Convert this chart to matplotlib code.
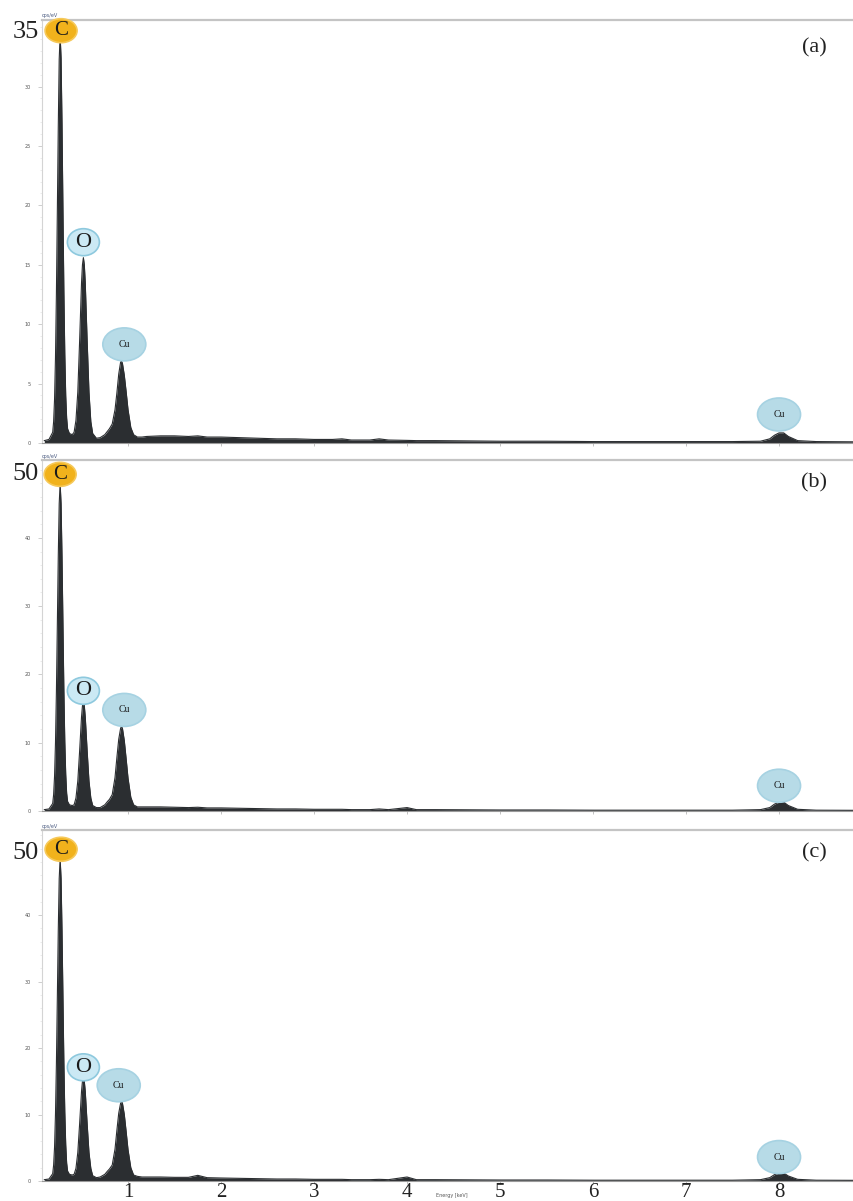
import matplotlib
matplotlib.use('Agg')
import matplotlib.pyplot as plt
import matplotlib.transforms as mtransforms
from matplotlib.patches import Ellipse
from matplotlib.ticker import MultipleLocator

# Energy axis (keV), shared by the three spectra
energy = [0.10, 0.15, 0.19, 0.20, 0.21, 0.22, 0.23, 0.24, 0.25, 0.26, 0.27, 0.28, 0.29, 0.30,
          0.31, 0.32, 0.33, 0.34, 0.35, 0.37, 0.40,
          0.42, 0.44, 0.46, 0.48, 0.50, 0.51, 0.52, 0.53, 0.54, 0.56, 0.58, 0.60, 0.62, 0.66,
          0.70, 0.75, 0.78, 0.80, 0.83, 0.86, 0.88, 0.90, 0.92, 0.93, 0.94, 0.96, 0.98, 1.00,
          1.03, 1.06, 1.10, 1.15,
          1.20, 1.35, 1.50, 1.65, 1.75, 1.85, 2.00, 2.20, 2.40, 2.60, 2.80, 3.00, 3.20, 3.30,
          3.40, 3.60, 3.70, 3.80, 4.00, 4.10, 4.30, 4.60, 5.00, 5.50, 6.00, 6.50, 7.00, 7.50,
          7.80, 7.90, 7.95, 8.00, 8.05, 8.10, 8.20, 8.40, 8.80]

# counts (cps/eV)
counts_a = [0.2, 0.3, 0.9, 1.8, 3.7, 7.2, 12.6, 19.5, 26.6, 32.3, 34.3, 32.4, 26.9, 19.7,
            12.8, 7.5, 4.0, 2.1, 1.2, 0.8, 0.7,
            0.9, 1.9, 4.3, 8.7, 13.5, 15.0, 15.6, 15.0, 13.5, 8.7, 4.3, 1.8, 0.8, 0.4,
            0.45, 0.7, 1.0, 1.2, 1.6, 2.8, 4.2, 5.8, 6.8, 6.9, 6.7, 5.7, 4.3, 2.8,
            1.3, 0.7, 0.5, 0.5,
            0.55, 0.6, 0.6, 0.55, 0.6, 0.5, 0.5, 0.45, 0.4, 0.35, 0.35, 0.3, 0.3, 0.35,
            0.25, 0.25, 0.35, 0.25, 0.22, 0.2, 0.2, 0.18, 0.15, 0.15, 0.12, 0.12, 0.12, 0.12,
            0.15, 0.35, 0.65, 0.85, 0.85, 0.55, 0.2, 0.12, 0.1]

counts_b = [0.2, 0.3, 1.1, 2.4, 5.1, 10.0, 17.5, 27.3, 37.3, 45.0, 48.0, 45.0, 37.3, 27.5,
            17.7, 10.2, 5.4, 2.6, 1.4, 0.9, 0.8,
            0.9, 1.9, 4.4, 8.9, 13.8, 15.4, 16.0, 15.4, 13.8, 8.9, 4.4, 1.9, 0.8, 0.5,
            0.5, 0.9, 1.4, 1.7, 2.4, 4.9, 7.8, 10.5, 12.1, 12.4, 12.1, 10.3, 7.6, 4.8,
            2.0, 0.9, 0.6, 0.6,
            0.6, 0.6, 0.55, 0.5, 0.55, 0.45, 0.45, 0.4, 0.35, 0.3, 0.3, 0.25, 0.25, 0.25,
            0.2, 0.2, 0.3, 0.2, 0.5, 0.2, 0.2, 0.18, 0.15, 0.15, 0.12, 0.12, 0.12, 0.12,
            0.2, 0.5, 1.0, 1.3, 1.3, 0.8, 0.25, 0.12, 0.1]

counts_c = [0.2, 0.3, 1.1, 2.4, 5.1, 10.1, 17.7, 27.6, 37.7, 45.5, 48.5, 45.5, 37.7, 27.8,
            17.9, 10.4, 5.5, 2.7, 1.5, 1.0, 0.9,
            1.0, 1.9, 4.3, 8.7, 13.5, 15.0, 15.6, 15.0, 13.5, 8.7, 4.3, 1.9, 0.8, 0.5,
            0.6, 1.0, 1.5, 1.8, 2.4, 4.8, 7.6, 10.2, 11.7, 12.0, 11.7, 10.0, 7.4, 4.7,
            2.0, 0.9, 0.7, 0.6,
            0.6, 0.6, 0.55, 0.55, 0.85, 0.5, 0.45, 0.4, 0.35, 0.3, 0.3, 0.25, 0.25, 0.25,
            0.2, 0.2, 0.25, 0.2, 0.6, 0.2, 0.2, 0.18, 0.15, 0.15, 0.12, 0.12, 0.12, 0.12,
            0.2, 0.5, 0.95, 1.2, 1.2, 0.75, 0.25, 0.12, 0.1]

panel_labels = ['(a)', '(b)', '(c)']
y_max = [35, 50, 50]
y_top = [35.6, 51.4, 52.8]
y_step = [5, 10, 10]

# element markers: (label, energy, y-position of bubble centre)
markers_a = [('C', 0.28, 34.7), ('O', 0.52, 16.9), ('Cu', 0.96, 8.3), ('Cu', 8.0, 2.4)]
markers_b = [('C', 0.27, 49.3), ('O', 0.52, 17.6), ('Cu', 0.96, 14.8), ('Cu', 8.0, 3.7)]
markers_c = [('C', 0.28, 49.9), ('O', 0.52, 17.1), ('Cu', 0.90, 14.4), ('Cu', 8.0, 3.6)]

serif = 'Liberation Serif'
dark = '#2b2e31'

fig = plt.figure(figsize=(8.54, 12.01), dpi=100)

# axes rectangles in pixels (left, top, bottom)
W, H = 854, 1201
boxes = [(42, 20, 443), (42, 460, 811), (42, 830, 1181)]
x_left, x_right = 0.075, 8.806


def bubble(ax, x, y, label):
    trans = fig.dpi_scale_trans + mtransforms.ScaledTranslation(x, y, ax.transData)
    if label == 'C':
        w, h, fc, ec, fs = 0.32, 0.24, '#f1b21c', '#f6c95a', 15
    elif label == 'O':
        w, h, fc, ec, fs = 0.32, 0.27, '#cbe9f4', '#8ec9de', 16
    else:
        w, h, fc, ec, fs = 0.43, 0.33, '#b7dbe7', '#a6d2e2', 7
    ax.add_patch(Ellipse((0, 0), w, h, transform=trans, facecolor=fc, edgecolor=ec,
                         linewidth=1.2, zorder=5, clip_on=False))
    ax.text(0, 0, label, transform=trans, ha='center', va='center', fontsize=fs,
            family=serif, color='#1a1a1a', zorder=6)


all_counts = [counts_a, counts_b, counts_c]
all_markers = [markers_a, markers_b, markers_c]

for i in range(3):
    left, top, bottom = boxes[i]
    ax = fig.add_axes([left / W, 1 - bottom / H, 1 - left / W, (bottom - top) / H])
    ax.fill_between(energy, 0, all_counts[i], color=dark, linewidth=0)
    ax.plot(energy, all_counts[i], color=dark, linewidth=0.8)
    ax.set_xlim(x_left, x_right)
    ax.set_ylim(0, y_top[i])

    ax.spines['right'].set_visible(False)
    ax.spines['top'].set_color('#c4c4c4')
    ax.spines['top'].set_linewidth(1.6)
    ax.spines['left'].set_color('#d4d4d4')
    ax.spines['left'].set_linewidth(0.8)
    ax.spines['bottom'].set_color('#9a9a9a')
    ax.spines['bottom'].set_linewidth(0.8)

    # y ticks: tiny grey labels, top value drawn large
    yt = list(range(0, y_max[i], y_step[i]))
    ax.set_yticks(yt)
    ax.set_yticklabels([str(v) for v in yt], fontsize=3.5, color='#555555')
    ax.yaxis.set_minor_locator(MultipleLocator(y_step[i] / 5))
    ax.tick_params(axis='y', which='major', length=3, width=0.5, color='#bbbbbb', pad=5)
    ax.tick_params(axis='y', which='minor', length=1.5, width=0.4, color='#dddddd')
    ax.text(-0.004, y_max[i] - 0.012 * y_top[i], str(y_max[i]),
            transform=ax.get_yaxis_transform(),
            ha='right', va='center', fontsize=19, family=serif, color='#222222')

    ax.set_xticks(range(1, 9))
    ax.tick_params(axis='x', length=2.5, width=0.5, color='#aaaaaa')
    if i < 2:
        ax.set_xticklabels([])
    else:
        ax.set_xticklabels([str(v) for v in range(1, 9)], fontsize=15, family=serif,
                           color='#222222')
        ax.tick_params(axis='x', pad=-1)

    ax.text(0.0, 1.004, 'cps/eV', transform=ax.transAxes, fontsize=3.5,
            color='#4a5a80', ha='left', va='bottom')
    ax.text(0.951, 0.935, panel_labels[i], transform=ax.transAxes, fontsize=16,
            family=serif, color='#222222', ha='center', va='center')

    for label, x, y in all_markers[i]:
        bubble(ax, x, y, label)

fig.text(452 / W, 1 - 1196 / H, 'Energy [keV]', fontsize=3.5, color='#555555',
         ha='center', va='center')

fig.savefig('out.png', dpi=100)
